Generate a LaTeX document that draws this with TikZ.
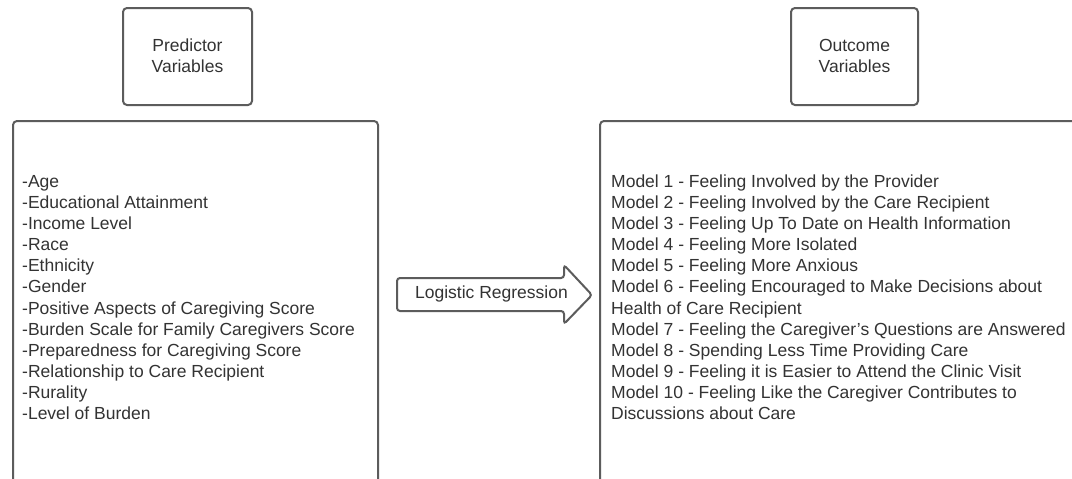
\documentclass[tikz,border=0pt]{standalone}
\usepackage{fontspec}
\setmainfont{Liberation Sans}
\definecolor{boxline}{HTML}{5C5C5C}
\definecolor{txt}{HTML}{333333}
\tikzset{
  frame/.style={draw=boxline, line width=2pt, rounded corners=4pt, fill=white},
  lbl/.style={text=txt, font=\fontsize{17.5}{21.15}\selectfont, inner sep=0pt},
  listtext/.style={lbl, align=left, anchor=north west},
}
\begin{document}
\begin{tikzpicture}[x=1pt,y=-1pt]
\useasboundingbox (0,0) rectangle (1072,479);
\fill[white] (0,0) rectangle (1072,479);
\clip (0,0) rectangle (1072,479);
% header boxes
\draw[frame] (123,8) rectangle (252,105);
\node[lbl, align=center] (pv) at (187.5,56) {Predictor\\Variables};
\draw[frame] (791,8) rectangle (918,105);
\node[lbl, align=center] (ov) at (854.5,56) {Outcome\\Variables};
% main boxes
\draw[frame] (13,121) rectangle (378,495);
\draw[frame] (600,121) rectangle (1090,495);
\node[listtext] (pred) at (22,174) {\rule{0pt}{13pt}-Age\\-Educational Attainment\\-Income Level\\-Race\\-Ethnicity\\-Gender\\-Positive Aspects of Caregiving Score\\-Burden Scale for Family Caregivers Score\\-Preparedness for Caregiving Score\\-Relationship to Care Recipient\\-Rurality\\-Level of Burden};
\node[listtext] (out) at (611,174) {\rule{0pt}{13pt}Model 1 - Feeling Involved by the Provider\\Model 2 - Feeling Involved by the Care Recipient\\Model 3 - Feeling Up To Date on Health Information\\Model 4 - Feeling More Isolated\\Model 5 - Feeling More Anxious\\Model 6 - Feeling Encouraged to Make Decisions about\\Health of Care Recipient\\Model 7 - Feeling the Caregiver's Questions are Answered\\Model 8 - Spending Less Time Providing Care\\Model 9 - Feeling it is Easier to Attend the Clinic Visit\\Model 10 - Feeling Like the Caregiver Contributes to\\Discussions about Care};
% block arrow
\draw[frame, rounded corners=3pt] (397,278) -- (564,278) -- (564,265) -- (592,295) -- (564,324) -- (564,311) -- (397,311) -- cycle;
\node[lbl] (lr) at (491.5,294) {Logistic Regression};
\end{tikzpicture}
\end{document}
